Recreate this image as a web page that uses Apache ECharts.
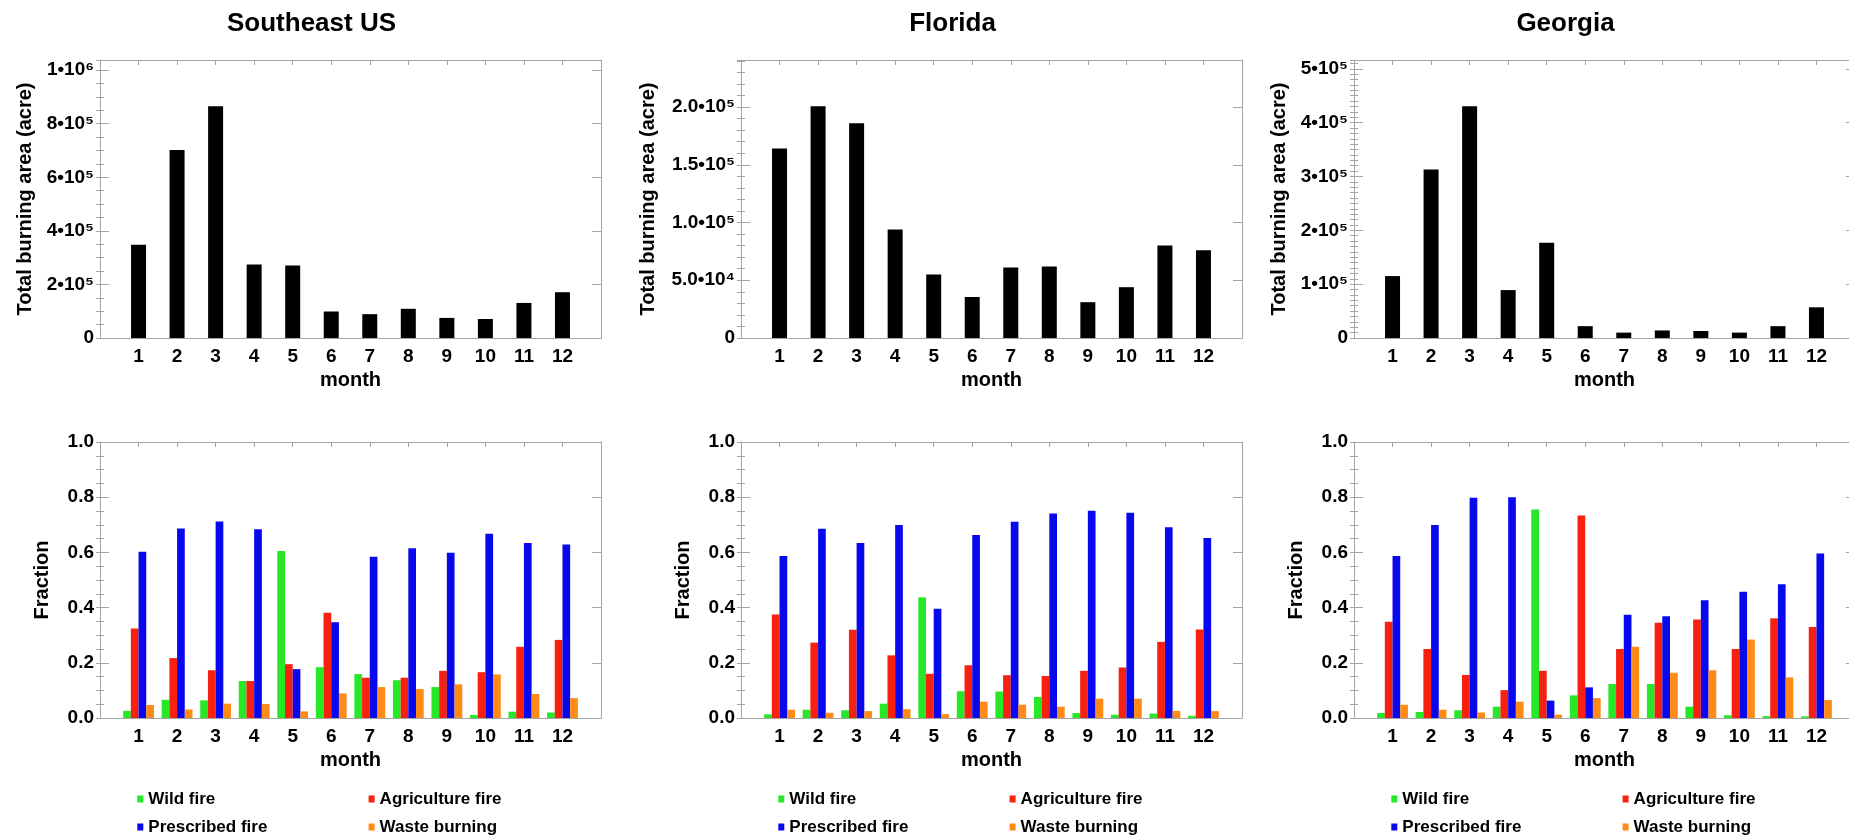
<!DOCTYPE html>
<html>
<head>
<meta charset="utf-8">
<script src="https://cdn.jsdelivr.net/npm/echarts@6/dist/echarts.min.js"></script>
<style>
html,body{margin:0;padding:0;background:#fff;}
#chart{width:1849px;height:836px;}
</style>
</head>
<body>
<div id="chart"></div>
<script>
// ---------------- DATA ----------------
const months = [1, 2, 3, 4, 5, 6, 7, 8, 9, 10, 11, 12];
const regionTitles = ['Southeast US', 'Florida', 'Georgia'];
const legendNames = ['Wild fire', 'Agriculture fire', 'Prescribed fire', 'Waste burning'];

// Total burning area (acre)
const seTotal = [348000, 702000, 865000, 274000, 271000, 99000, 89000, 109000, 75000, 71000, 131000, 171000];
const flTotal = [164000, 200600, 186000, 94000, 55000, 35500, 61000, 62000, 31000, 44000, 80000, 76000];
const gaTotal = [115000, 313000, 430300, 89000, 177000, 22000, 10000, 14000, 13000, 10000, 22000, 57000];

// Fractions: Southeast US
const seWild  = [0.026, 0.066, 0.064, 0.134, 0.605, 0.184, 0.159, 0.137, 0.112, 0.011, 0.023, 0.020];
const seAgri  = [0.324, 0.217, 0.173, 0.134, 0.195, 0.381, 0.146, 0.146, 0.171, 0.166, 0.258, 0.283];
const sePres  = [0.602, 0.687, 0.712, 0.684, 0.177, 0.347, 0.584, 0.615, 0.599, 0.668, 0.634, 0.629];
const seWaste = [0.047, 0.031, 0.052, 0.051, 0.024, 0.089, 0.112, 0.105, 0.122, 0.158, 0.087, 0.072];
// Fractions: Florida
const flWild  = [0.013, 0.030, 0.028, 0.052, 0.437, 0.097, 0.096, 0.076, 0.018, 0.012, 0.016, 0.008];
const flAgri  = [0.375, 0.273, 0.320, 0.227, 0.160, 0.191, 0.155, 0.152, 0.171, 0.183, 0.276, 0.321];
const flPres  = [0.587, 0.686, 0.634, 0.699, 0.396, 0.663, 0.711, 0.741, 0.751, 0.744, 0.691, 0.652];
const flWaste = [0.030, 0.019, 0.025, 0.032, 0.014, 0.059, 0.048, 0.041, 0.070, 0.070, 0.026, 0.025];
// Fractions: Georgia
const gaWild  = [0.018, 0.022, 0.028, 0.041, 0.755, 0.082, 0.123, 0.123, 0.041, 0.010, 0.007, 0.006];
const gaAgri  = [0.349, 0.250, 0.156, 0.101, 0.171, 0.734, 0.250, 0.345, 0.357, 0.250, 0.361, 0.330];
const gaPres  = [0.587, 0.699, 0.798, 0.800, 0.063, 0.111, 0.374, 0.369, 0.427, 0.457, 0.485, 0.596];
const gaWaste = [0.048, 0.030, 0.020, 0.059, 0.012, 0.072, 0.258, 0.164, 0.173, 0.284, 0.147, 0.065];

// Tick labels
const seTickValues = [0, 200000, 400000, 600000, 800000, 1000000];
const seTickLabels = ['0', '2•10⁵', '4•10⁵', '6•10⁵', '8•10⁵', '1•10⁶'];
const flTickValues = [0, 50000, 100000, 150000, 200000];
const flTickLabels = ['0', '5.0•10⁴', '1.0•10⁵', '1.5•10⁵', '2.0•10⁵'];
const gaTickValues = [0, 100000, 200000, 300000, 400000, 500000];
const gaTickLabels = ['0', '1•10⁵', '2•10⁵', '3•10⁵', '4•10⁵', '5•10⁵'];
const fracTickValues = [0, 0.2, 0.4, 0.6, 0.8, 1.0];
const fracTickLabels = ['0.0', '0.2', '0.4', '0.6', '0.8', '1.0'];

// ---------------- LAYOUT / STYLE ----------------
const FONT = "'Liberation Sans', Arial, Helvetica, sans-serif";
const AXC = '#a4a4a4';
const COLORS = ['#26e826', '#f8200e', '#0808ee', '#ff8a16'];
const colLeft = [100, 741, 1354];
const plotW = 501;
const topRow = { top: 60, height: 278 };
const botRow = { top: 442, height: 276 };

const totals = [seTotal, flTotal, gaTotal];
const fracs = [
  [seWild, seAgri, sePres, seWaste],
  [flWild, flAgri, flPres, flWaste],
  [gaWild, gaAgri, gaPres, gaWaste]
];
const topTicks = [
  { values: seTickValues, labels: seTickLabels, interval: 200000, minor: 50000, nameGap: 65 },
  { values: flTickValues, labels: flTickLabels, interval: 50000, minor: 10000, nameGap: 83 },
  { values: gaTickValues, labels: gaTickLabels, interval: 100000, minor: 10000, nameGap: 65 }
];

function labelFmt(values, labels) {
  return function (v) {
    for (let i = 0; i < values.length; i++) {
      if (Math.abs(values[i] - v) < 1e-9 * Math.max(1, Math.abs(values[i]))) return labels[i];
    }
    return '';
  };
}

const txt = (size) => ({ fontFamily: FONT, fontWeight: 'bold', fontSize: size, color: '#000' });

const grids = [], xAxes = [], yAxes = [], series = [], legends = [], titles = [];

function addGrid(left, row) {
  grids.push({ left: left, top: row.top, width: plotW, height: row.height, containLabel: false, outerBoundsMode: 'none' });
  return grids.length - 1;
}

function addXAxes(g) {
  const bottomIdx = xAxes.length;
  xAxes.push({
    gridIndex: g, type: 'value', min: 0, max: 13, interval: 1, position: 'bottom',
    axisLine: { show: true, onZero: false, lineStyle: { color: AXC, width: 1 } },
    axisTick: { show: false }, splitLine: { show: false },
    axisLabel: { margin: 9, formatter: labelFmt(months, months.map(String)), ...txt(19) },
    name: 'month', nameLocation: 'middle', nameGap: 32, nameTextStyle: txt(20)
  });
  xAxes.push({
    gridIndex: g, type: 'value', min: 0, max: 13, interval: 1, position: 'top',
    axisLine: { show: true, onZero: false, lineStyle: { color: AXC, width: 1 } },
    axisTick: { show: true, inside: true, length: 5, lineStyle: { color: AXC } },
    axisLabel: { show: false }, splitLine: { show: false }
  });
  return bottomIdx;
}

function addYAxes(g, max, interval, minor, values, labels, name, nameGap) {
  const leftIdx = yAxes.length;
  const base = { gridIndex: g, type: 'value', min: 0, max: max, splitLine: { show: false } };
  yAxes.push(Object.assign({}, base, {
    position: 'left', interval: interval,
    axisLine: { show: true, onZero: false, lineStyle: { color: AXC, width: 1 } },
    axisTick: { show: true, inside: true, length: 9, lineStyle: { color: AXC } },
    axisLabel: { margin: 6, formatter: labelFmt(values, labels), ...txt(19) },
    name: name, nameLocation: 'middle', nameGap: nameGap, nameTextStyle: txt(20)
  }));
  yAxes.push(Object.assign({}, base, {
    position: 'left', interval: minor,
    axisLine: { show: false },
    axisTick: { show: true, inside: true, length: 4, lineStyle: { color: AXC } },
    axisLabel: { show: false }
  }));
  yAxes.push(Object.assign({}, base, {
    position: 'right', interval: interval,
    axisLine: { show: true, onZero: false, lineStyle: { color: AXC, width: 1 } },
    axisTick: { show: true, inside: true, length: 9, lineStyle: { color: AXC } },
    axisLabel: { show: false }
  }));
  yAxes.push(Object.assign({}, base, {
    position: 'right', interval: minor,
    axisLine: { show: false },
    axisTick: { show: true, inside: true, length: 4, lineStyle: { color: AXC } },
    axisLabel: { show: false }
  }));
  return leftIdx;
}

for (let c = 0; c < 3; c++) {
  // title
  titles.push({
    text: regionTitles[c], left: colLeft[c] + plotW / 2 - 39, top: 11, padding: 0,
    textAlign: 'center', textStyle: txt(26)
  });
  // top: totals
  const gT = addGrid(colLeft[c], topRow);
  const xT = addXAxes(gT);
  const tk = topTicks[c];
  const yMax = 1.2 * Math.max.apply(null, totals[c]);
  const yT = addYAxes(gT, yMax, tk.interval, tk.minor, tk.values, tk.labels, 'Total burning area (acre)', tk.nameGap);
  series.push({
    type: 'bar', name: 'total' + c, xAxisIndex: xT, yAxisIndex: yT, barWidth: 15,
    itemStyle: { color: '#000' },
    data: months.map((m, k) => [m, totals[c][k]])
  });
  // bottom: fractions
  const gB = addGrid(colLeft[c], botRow);
  const xB = addXAxes(gB);
  const yB = addYAxes(gB, 1, 0.2, 0.05, fracTickValues, fracTickLabels, 'Fraction', 48);
  for (let s = 0; s < 4; s++) {
    series.push({
      type: 'bar', name: legendNames[s], xAxisIndex: xB, yAxisIndex: yB,
      barWidth: 7.7, barGap: '0%',
      itemStyle: { color: COLORS[s] },
      data: months.map((m, k) => [m, fracs[c][s][k]])
    });
  }
  // legends
  for (let s = 0; s < 4; s++) {
    const col = s % 2, row = Math.floor(s / 2);
    legends.push({
      data: [legendNames[s]],
      left: colLeft[c] + (col ? 268.6 : 37.3),
      top: (row ? 827 : 799) - 8.5,
      padding: 0, itemWidth: 6, itemHeight: 7, icon: 'rect',
      selectedMode: false,
      textStyle: txt(17)
    });
  }
}

const chart = echarts.init(document.getElementById('chart'), null, { renderer: 'canvas' });
chart.setOption({
  animation: false,
  backgroundColor: '#ffffff',
  title: titles,
  legend: legends,
  grid: grids,
  xAxis: xAxes,
  yAxis: yAxes,
  series: series
});
</script>
</body>
</html>
